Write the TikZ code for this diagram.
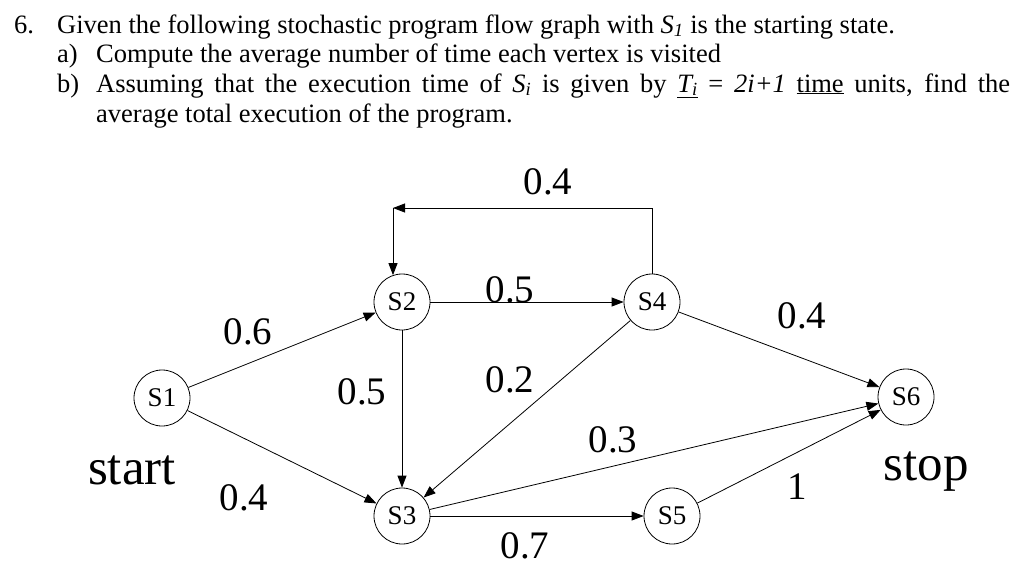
\documentclass[tikz,border=0pt]{standalone}
\usepackage{fontspec}
\setmainfont{Liberation Serif}
\usetikzlibrary{arrows.meta}
\begin{document}
\begin{tikzpicture}[x=1pt,y=-1pt,
  st/.style={circle,draw,line width=0.8pt,minimum size=56pt,inner sep=0pt,font=\fontsize{27}{27}\selectfont},
  lbl/.style={font=\fontsize{39}{39}\selectfont,inner sep=0pt},
  big/.style={font=\fontsize{51}{51}\selectfont,inner sep=0pt},
  hd/.style={font=\fontsize{26.5}{26.5}\selectfont,inner sep=0pt,anchor=base west},
  ed/.style={-{Triangle[length=12pt,width=9pt]},line width=0.8pt}]
\useasboundingbox (0,0) rectangle (1024,573);
\node[hd] (h1) at (14,33) {6.};
\node[hd] (h1b) at (57,33) {Given the following stochastic program flow graph with \textit{S\textsubscript{1}} is the starting state.};
\node[hd] (h2) at (57,62) {a)};
\node[hd] (h2b) at (96,62) {Compute the average number of time each vertex is visited};
\node[hd] (h3) at (57,92) {b)};
\node[hd] (h3b) at (96,92) {\makebox[914pt][s]{Assuming that the execution time of \textit{S\textsubscript{i}} is given by \underline{\textit{T\textsubscript{i}}} = \textit{2i+1} \underline{time} units, find the}};
\node[hd] (h4) at (96,122) {average total execution of the program.};

\node[st] (S1) at (162,398) {S1};
\node[st] (S2) at (402,302) {S2};
\node[st] (S4) at (652,302) {S4};
\node[st] (S6) at (906,397) {S6};
\node[st] (S3) at (402,516) {S3};
\node[st] (S5) at (672,516) {S5};
\coordinate (c) at (393,208);

\draw[ed] (S4.north) |- (c);
\draw[ed] (c) -- (c |- S2.109);
\draw[ed] (S1) -- (S2);
\draw[ed] (S1) -- (S3);
\draw[ed] (S2) -- (S4);
\draw[ed] (S2) -- (S3);
\draw[ed] (S4) -- (S3);
\draw[ed] (S4) -- (S6);
\draw[ed] (S3) -- (S6);
\draw[ed] (S3) -- (S5);
\draw[ed] (S5) -- (S6);

\node[lbl] (l1) at (548,182) {0.4};
\node[lbl] (l2) at (510,290) {0.5};
\node[lbl] (l3) at (248,332) {0.6};
\node[lbl] (l4) at (802,316) {0.4};
\node[lbl] (l5) at (362,392) {0.5};
\node[lbl] (l6) at (510,380) {0.2};
\node[lbl] (l7) at (613,440) {0.3};
\node[lbl] (l8) at (244,498) {0.4};
\node[lbl] (l9) at (797,487) {1};
\node[lbl] (l10) at (525,546) {0.7};
\node[big] (start) at (132,470) {start};
\node[big] (stop) at (926,472) {stop};
\end{tikzpicture}
\end{document}
